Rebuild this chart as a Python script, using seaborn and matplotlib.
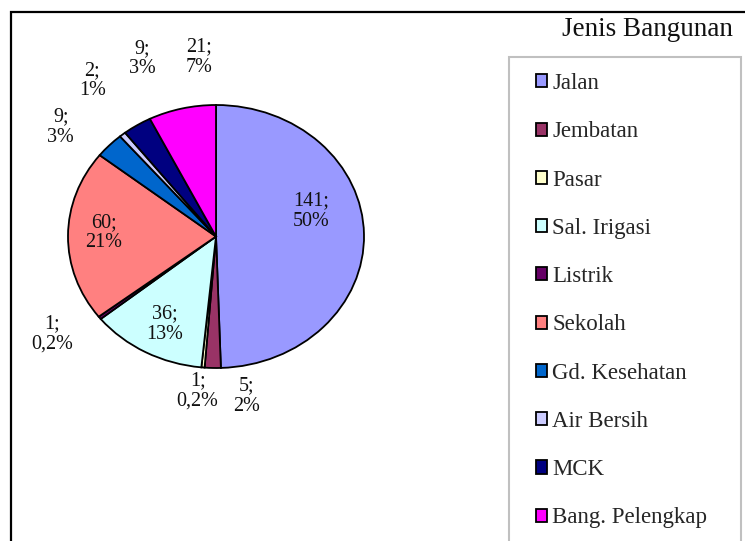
import numpy as np
import matplotlib
matplotlib.use("Agg")
import matplotlib.pyplot as plt
from matplotlib.patches import Rectangle
import seaborn as sns

# DATA
categories = ["Jalan", "Jembatan", "Pasar", "Sal. Irigasi", "Listrik",
              "Sekolah", "Gd. Kesehatan", "Air Bersih", "MCK", "Bang. Pelengkap"]
counts = [141, 5, 1, 36, 1, 60, 9, 2, 9, 21]
pct_labels = ["50%", "2%", "0,2%", "13%", "0,2%", "21%", "3%", "1%", "3%", "7%"]
colors = ["#9999FF", "#993366", "#FFFFCC", "#CCFFFF", "#660066",
          "#FF8080", "#0066CC", "#CCCCFF", "#000080", "#FF00FF"]

# label placement (radius in pie units, nudge in degrees clockwise)
label_radius = [0.67, 1.23, 1.18, 0.75, 1.33, 0.76, 1.34, 1.45, 1.44, 1.37]
label_shift = [-16, -11, 1, -1, 4.5, 2, -5.4, 4, 12, 8.5]

sns.set_theme(style="white")
plt.rcParams["font.family"] = ["Liberation Serif", "DejaVu Serif"]

W, H = 745, 541
fig = plt.figure(figsize=(W / 100, H / 100), dpi=100)
fig.patch.set_facecolor("white")

# outer chart frame (right and bottom run off the picture)
fig.add_artist(Rectangle((11 / W, -0.1), 1.2, (H - 12) / H + 0.1, transform=fig.transFigure,
                         fill=False, edgecolor="black", linewidth=1.6, clip_on=False))

# pie axes, stretched like the original
ax = fig.add_axes([68 / W, (H - 368) / H, 296 / W, 263 / H])
palette = sns.color_palette(colors)
wedges, _ = ax.pie(counts, colors=palette, startangle=90, counterclock=False,
                   wedgeprops=dict(edgecolor="black", linewidth=1.3, clip_on=False))
ax.set_aspect("auto")
ax.set_xlim(-1, 1)
ax.set_ylim(-1, 1)
ax.axis("off")

for w, n, p, r, s in zip(wedges, counts, pct_labels, label_radius, label_shift):
    mid = np.deg2rad((w.theta1 + w.theta2) / 2 - s)
    ax.text(r * np.cos(mid), r * np.sin(mid), f"{n};\n{p}", ha="center", va="center",
            fontsize=14.5, linespacing=1.1, color="#111111")

# legend frame
fig.add_artist(Rectangle((509 / W, -0.1), 232 / W, (H - 57) / H + 0.1, transform=fig.transFigure,
                         fill=False, edgecolor="#c0c0c0", linewidth=1.5, clip_on=False))
fig.legend(wedges, categories, loc="upper left", bbox_to_anchor=(536 / W, 1 - 73 / H),
           frameon=False, fontsize=16.5, handlelength=0.5, handleheight=0.5,
           handletextpad=0.22, labelspacing=1.19, borderaxespad=0, borderpad=0)

fig.text(733 / W, 1 - 30 / H, "Jenis Bangunan", ha="right", va="center", fontsize=19.5,
         color="#111111")

fig.savefig("out.png", dpi=100)
